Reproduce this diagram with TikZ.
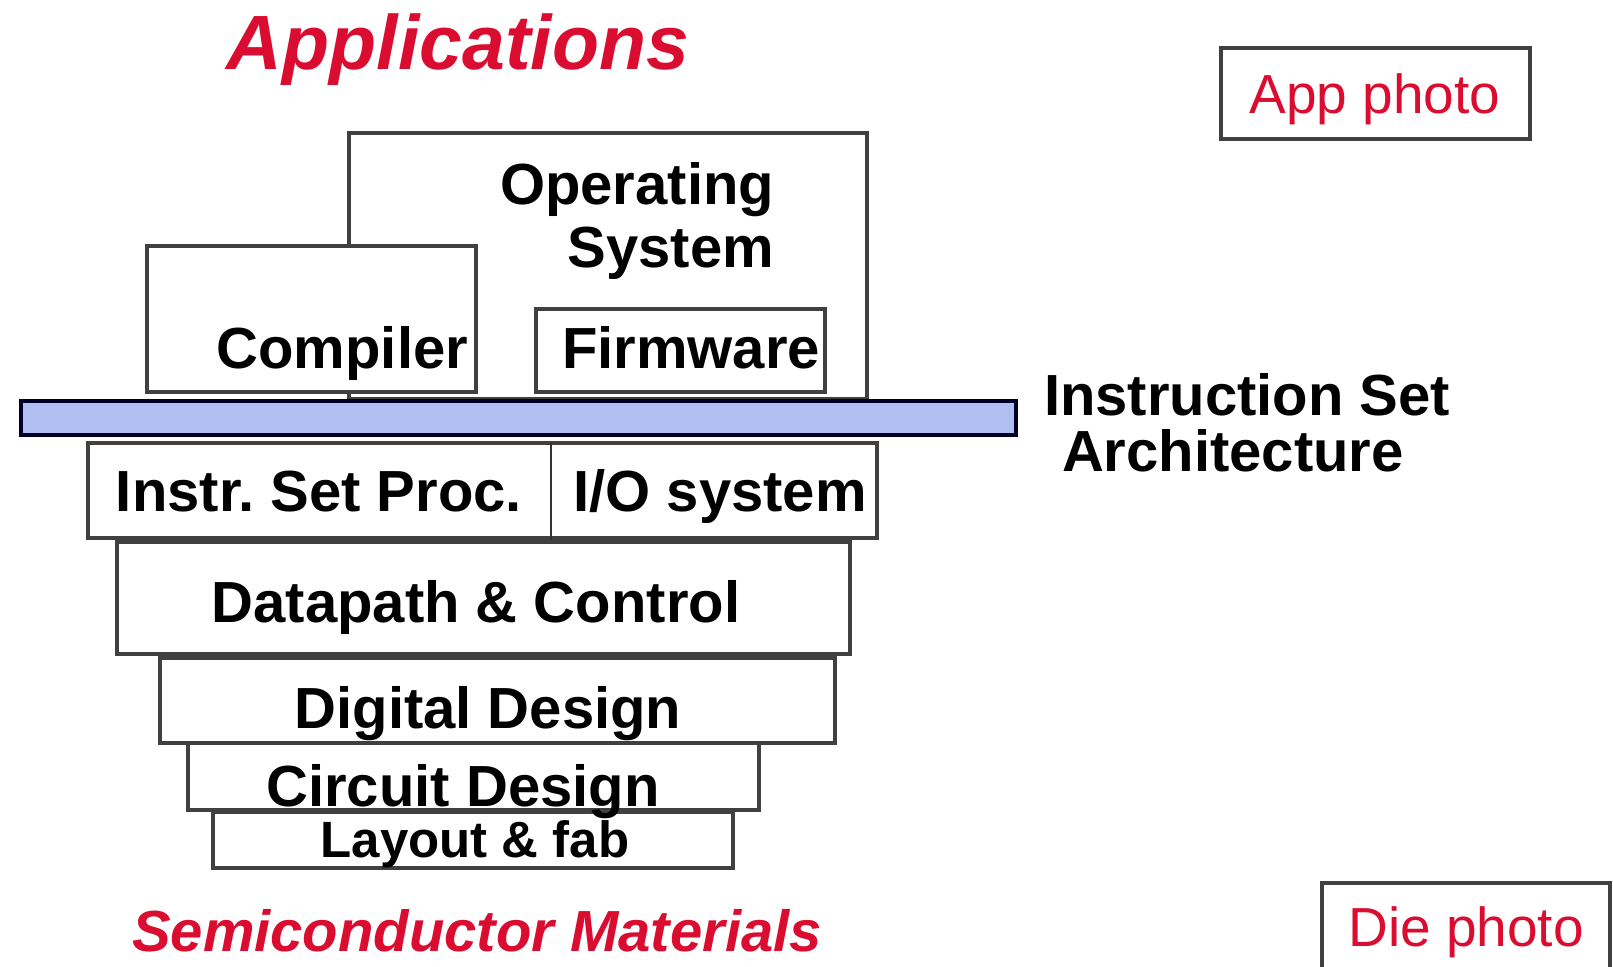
\documentclass[tikz,border=0pt]{standalone}
\usepackage{fontspec}
\setmainfont{Liberation Sans}
\definecolor{titlered}{RGB}{218,12,48}
\definecolor{isablue}{RGB}{176,190,242}

\begin{document}
\begin{tikzpicture}[x=1pt,y=-1pt]
    \tikzstyle{every node}=[inner sep=0pt, outer sep=0pt];
    \tikzstyle{layer}=[draw=black!75, line width=3.5pt, fill=white, shape=rectangle];
    \tikzstyle{lbl}=[anchor=base, font=\fontsize{58}{60}\selectfont\bfseries];
    \tikzstyle{photo}=[anchor=base, text=titlered, font=\fontsize{55}{60}\selectfont];
    \tikzstyle{heading}=[anchor=base, text=titlered, font=\fontsize{58}{60}\selectfont\bfseries\itshape];
    \useasboundingbox (0,0) rectangle (1613,966);

    % the boxes
    \node[layer, minimum width=309pt, minimum height=91pt] (appbox) at (1375.5,93.5) {};
    \node[layer, minimum width=518pt, minimum height=266pt] (osbox) at (608,266) {};
    \node[layer, minimum width=329pt, minimum height=146pt] (compbox) at (311.5,319) {};
    \node[layer, minimum width=289pt, minimum height=83pt] (firmbox) at (680.5,350.5) {};
    \node[layer, fill=isablue, draw=black!85!blue, line width=4pt, minimum width=995pt, minimum height=34pt] (isabar) at (518.5,418) {};
    \node[layer, minimum width=789pt, minimum height=95pt] (ispio) at (482.5,490.5) {};
    \draw[black!80, line width=2pt] (551,443) -- (551,547);
    \node[layer, minimum width=733pt, minimum height=112pt] (dpbox) at (483.5,598) {};
    \node[layer, minimum width=675pt, minimum height=85pt] (ddbox) at (497.5,700.5) {};
    \node[layer, minimum width=571pt, minimum height=67pt] (cdbox) at (473.5,776.5) {};
    \node[layer, minimum width=520pt, minimum height=56pt] (lfbox) at (473,840) {};
    \node[layer, minimum width=288pt, minimum height=94pt] (diebox) at (1466,930) {};

    % the labels
    \node[heading, font=\fontsize{77}{80}\selectfont\bfseries\itshape] (apps) at (458,70) {Applications};
    \node[photo] (appphoto) at (1375,113) {App photo};
    \node[lbl, anchor=base east] (os1) at (774,204) {Operating};
    \node[lbl, anchor=base east] (os2) at (774,267) {System};
    \node[lbl, anchor=base east] (comp) at (468,368) {Compiler};
    \node[lbl] (firm) at (691,368) {Firmware};
    \node[lbl, anchor=base west] (isa1) at (1044,415) {Instruction Set};
    \node[lbl, anchor=base west] (isa2) at (1062,471) {Architecture};
    \node[lbl] (isp) at (319,511) {Instr.\ Set Proc.};
    \node[lbl] (io) at (720,511) {I/O system};
    \node[lbl] (dp) at (476,622) {Datapath \& Control};
    \node[lbl] (dd) at (488,728) {Digital Design};
    \node[lbl] (cd) at (463,806) {Circuit Design};
    \node[lbl, font=\fontsize{51}{54}\selectfont\bfseries] (lf) at (475,857) {Layout \& fab};
    \node[heading] (semi) at (477,951) {Semiconductor Materials};
    \node[photo] (die) at (1466,946) {Die photo};
\end{tikzpicture}
\end{document}
